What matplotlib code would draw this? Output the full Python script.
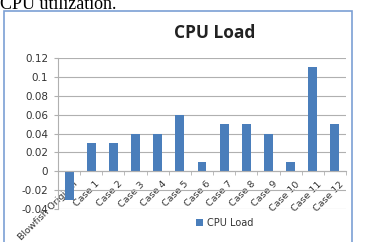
import numpy as np
from matplotlib import pyplot as plt
from matplotlib.patches import Rectangle
from matplotlib.transforms import ScaledTranslation

categories = ['Blowfish Original', 'Case 1', 'Case 2', 'Case 3', 'Case 4', 'Case 5',
              'Case 6', 'Case 7', 'Case 8', 'Case 9', 'Case 10', 'Case 11', 'Case 12']
cpu_load = [-0.03, 0.03, 0.03, 0.04, 0.04, 0.06, 0.01, 0.05, 0.05, 0.04, 0.01, 0.11, 0.05]
yticks = [-0.04, -0.02, 0, 0.02, 0.04, 0.06, 0.08, 0.1, 0.12]
ytick_labels = ['-0.04', '-0.02', '0', '0.02', '0.04', '0.06', '0.08', '0.1', '0.12']

fig = plt.figure(figsize=(3.74, 2.42), dpi=100)
fig.patch.set_facecolor('white')

# frame of the pasted excel chart
fig.patches.append(Rectangle((4 / 374, -0.05), 348 / 374, 1 - 11 / 242 + 0.05,
                             transform=fig.transFigure, fill=False,
                             edgecolor='#7c9fd4', linewidth=1.2))
# caption from the page above, cut off at the top
fig.text(0.0, 1 - 9 / 242, 'CPU utilization.', family='Liberation Serif', fontsize=13,
         ha='left', va='baseline')

ax = fig.add_axes([58 / 374, 1 - 209 / 242, (346 - 58) / 374, (209 - 58) / 242])
x = np.arange(len(categories))
ax.bar(x, cpu_load, width=0.4, color='#4a7ebb', zorder=3, label='CPU Load')

ax.set_xlim(-0.5, len(categories) - 0.5)
ax.set_ylim(-0.04, 0.12)
ax.set_yticks(yticks)
ax.set_yticklabels(ytick_labels)
ax.grid(axis='y', color='#b0b0b0', linewidth=0.8, zorder=0)

for s in ['top', 'right']:
    ax.spines[s].set_visible(False)
ax.spines['left'].set_color('#b0b0b0')
ax.spines['bottom'].set_color('#b0b0b0')
ax.spines['bottom'].set_position(('data', 0))
ax.spines['bottom'].set_zorder(4)

ax.set_xticks(x)
ax.set_xticklabels(categories, rotation=45, ha='right', rotation_mode='anchor',
                   fontsize=6.8, color='#333333')
ax.set_xticks(np.arange(-0.5, len(categories), 1), minor=True)
ax.tick_params(axis='x', which='major', length=0, pad=6)
ax.tick_params(axis='x', which='minor', length=3, color='#b0b0b0', direction='out')
ax.tick_params(axis='y', length=3, color='#b0b0b0', labelsize=7.5, labelcolor='#333333', pad=4)
for lab in ax.get_xticklabels():
    lab.set_transform(lab.get_transform() + ScaledTranslation(3 / 72, 0, fig.dpi_scale_trans))

fig.text(215 / 374, 1 - 33 / 242, 'CPU Load', ha='center', va='center',
         fontsize=12.5, fontweight='bold', family='Open Sans', color='#222222')

fig.legend(loc='center', bbox_to_anchor=(225 / 374, 1 - 223 / 242), frameon=False,
           fontsize=7, handlelength=0.7, handleheight=0.7, handletextpad=0.4,
           labelcolor='#333333')

plt.savefig('out.png', dpi=100)
